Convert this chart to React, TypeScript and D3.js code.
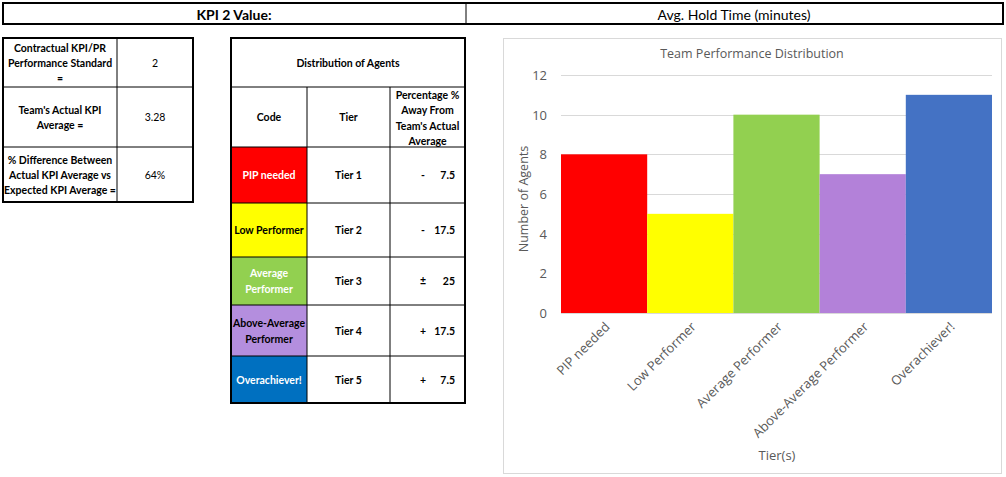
import React from 'react';
import * as d3 from 'd3';

const tiers = ['PIP needed', 'Low Performer', 'Average Performer', 'Above-Average Performer', 'Overachiever!'];
const agentCounts = [8, 5, 10, 7, 11];
const barColors = ['#FF0000', '#FFFF00', '#92D050', '#B381D9', '#4472C4'];
const yTicks = [0, 2, 4, 6, 8, 10, 12];

const kpiLabels = [
  ['Contractual KPI/PR', 'Performance Standard', '='],
  ["Team's Actual KPI", 'Average ='],
  ['% Difference Between', 'Actual KPI Average vs', 'Expected KPI Average ='],
];
const kpiValues = ['2', '3.28', '64%'];

const codeLabels = [['PIP needed'], ['Low Performer'], ['Average', 'Performer'], ['Above-Average', 'Performer'], ['Overachiever!']];
const codeColors = ['#FF0000', '#FFFF00', '#92D050', '#B48EDE', '#0070C0'];
const codeText = ['#ffffff', '#000000', '#ffffff', '#000000', '#ffffff'];
const tierNames = ['Tier 1', 'Tier 2', 'Tier 3', 'Tier 4', 'Tier 5'];
const pctSigns = ['-', '-', '±', '+', '+'];
const pctValues = ['7.5', '17.5', '25', '17.5', '7.5'];

const tableFont = 'Lato, "Liberation Sans", sans-serif';
const chartFont = '"Open Sans", "Noto Sans", sans-serif';

function Lines({ x, cy, lines, gap = 15, ...rest }: any) {
  const y0 = cy - ((lines.length - 1) * gap) / 2;
  return (
    <text x={x} textAnchor="middle" dominantBaseline="central" {...rest}>
      {lines.map((l: string, i: number) => (
        <tspan key={i} x={x} y={y0 + i * gap}>{l}</tspan>
      ))}
    </text>
  );
}

export default function App() {
  // chart geometry
  const plot = { left: 561, right: 992, top: 75, bottom: 313 };
  const x = d3.scaleBand<string>().domain(tiers).range([plot.left, plot.right]).padding(0);
  const y = d3.scaleLinear().domain([0, 12]).range([plot.bottom, plot.top]);

  // kpi table geometry
  const kRows = [38, 87, 147, 202];
  const kCols = [3, 117, 193];

  // distribution table geometry
  const dCols = [231, 307, 390, 465];
  const dRows = [38, 87, 147, 203, 257, 305, 356, 403];

  return (
    <svg width={1006} height={477} style={{ position: 'absolute', left: 0, top: 0, background: '#fff' }}>
      {/* header band */}
      <rect x={3} y={3} width={1000} height={21} fill="none" stroke="#000" strokeWidth={2} />
      <line x1={466} x2={466} y1={3} y2={24} stroke="#000" strokeWidth={1} />
      <text x={234} y={14} textAnchor="middle" dominantBaseline="central" fontFamily={tableFont} fontWeight="bold" fontSize={14}>KPI 2 Value:</text>
      <text x={734} y={14} textAnchor="middle" dominantBaseline="central" fontFamily={tableFont} fontSize={14}>Avg. Hold Time (minutes)</text>

      {/* KPI table */}
      <g fontFamily={tableFont} fontSize={10.5}>
        {kpiLabels.map((lines, i) => {
          const cy = (kRows[i] + kRows[i + 1]) / 2;
          return (
            <g key={i}>
              <Lines x={(kCols[0] + kCols[1]) / 2} cy={cy} lines={lines} fontWeight="bold" />
              <text x={(kCols[1] + kCols[2]) / 2} y={cy} textAnchor="middle" dominantBaseline="central">{kpiValues[i]}</text>
            </g>
          );
        })}
        {kRows.slice(1, -1).map((r) => (
          <line key={r} x1={kCols[0]} x2={kCols[2]} y1={r} y2={r} stroke="#000" />
        ))}
        <line x1={kCols[1]} x2={kCols[1]} y1={kRows[0]} y2={kRows[3]} stroke="#000" />
        <rect x={kCols[0]} y={kRows[0]} width={kCols[2] - kCols[0]} height={kRows[3] - kRows[0]} fill="none" stroke="#000" strokeWidth={2} />
      </g>

      {/* distribution table */}
      <g fontFamily={tableFont} fontSize={10.5} fontWeight="bold">
        {codeLabels.map((lines, i) => {
          const top = dRows[i + 2];
          const bot = dRows[i + 3];
          const cy = (top + bot) / 2;
          return (
            <g key={i}>
              <rect x={dCols[0]} y={top} width={dCols[1] - dCols[0]} height={bot - top} fill={codeColors[i]} />
              <Lines x={(dCols[0] + dCols[1]) / 2} cy={cy} lines={lines} gap={16} fill={codeText[i]} />
              <text x={(dCols[1] + dCols[2]) / 2} y={cy} textAnchor="middle" dominantBaseline="central">{tierNames[i]}</text>
              <text x={423} y={cy} textAnchor="middle" dominantBaseline="central">{pctSigns[i]}</text>
              <text x={455} y={cy} textAnchor="end" dominantBaseline="central">{pctValues[i]}</text>
            </g>
          );
        })}
        <text x={(dCols[0] + dCols[3]) / 2} y={(dRows[0] + dRows[1]) / 2} textAnchor="middle" dominantBaseline="central">Distribution of Agents</text>
        <text x={(dCols[0] + dCols[1]) / 2} y={(dRows[1] + dRows[2]) / 2} textAnchor="middle" dominantBaseline="central">Code</text>
        <text x={(dCols[1] + dCols[2]) / 2} y={(dRows[1] + dRows[2]) / 2} textAnchor="middle" dominantBaseline="central">Tier</text>
        <Lines x={(dCols[2] + dCols[3]) / 2} cy={(dRows[1] + dRows[2]) / 2 + 1} lines={['Percentage %', 'Away From', "Team's Actual", 'Average']} gap={15.3} />
        {dRows.slice(1, -1).map((r) => (
          <line key={r} x1={dCols[0]} x2={dCols[3]} y1={r} y2={r} stroke="#000" />
        ))}
        {dCols.slice(1, -1).map((c) => (
          <line key={c} x1={c} x2={c} y1={dRows[1]} y2={dRows[7]} stroke="#000" />
        ))}
        <rect x={dCols[0]} y={dRows[0]} width={dCols[3] - dCols[0]} height={dRows[7] - dRows[0]} fill="none" stroke="#000" strokeWidth={2} />
      </g>

      {/* chart */}
      <rect x={503.5} y={38.5} width={498} height={435} fill="#fff" stroke="#D9D9D9" />
      <text x={752} y={53} textAnchor="middle" dominantBaseline="central" fontFamily={chartFont} fontSize={12.5} fill="#595959">Team Performance Distribution</text>
      <g fontFamily={chartFont} fontSize={13} fill="#595959">
        {yTicks.map((t) => (
          <g key={t}>
            <line x1={plot.left} x2={plot.right} y1={Math.round(y(t)) + 0.5} y2={Math.round(y(t)) + 0.5} stroke="#D9D9D9" />
            <text x={547} y={y(t)} textAnchor="end" dominantBaseline="central">{t}</text>
          </g>
        ))}
      </g>
      {tiers.map((t, i) => (
        <rect key={t} x={x(t)} y={y(agentCounts[i])} width={x.bandwidth()} height={y(0) - y(agentCounts[i])} fill={barColors[i]} />
      ))}
      <g fontFamily={chartFont} fontSize={13} fill="#595959">
        {tiers.map((t) => {
          const cx = (x(t) as number) + x.bandwidth() / 2 + 3;
          return (
            <text key={t} transform={`translate(${cx},${plot.bottom + 11}) rotate(-45)`} textAnchor="end" dominantBaseline="central">{t}</text>
          );
        })}
      </g>
      <text transform={`translate(523,${(plot.top + plot.bottom) / 2 + 5}) rotate(-90)`} textAnchor="middle" dominantBaseline="central" fontFamily={chartFont} fontSize={12.5} fill="#595959">Number of Agents</text>
      <text x={777} y={455} textAnchor="middle" dominantBaseline="central" fontFamily={chartFont} fontSize={13} fill="#595959">Tier(s)</text>
    </svg>
  );
}
